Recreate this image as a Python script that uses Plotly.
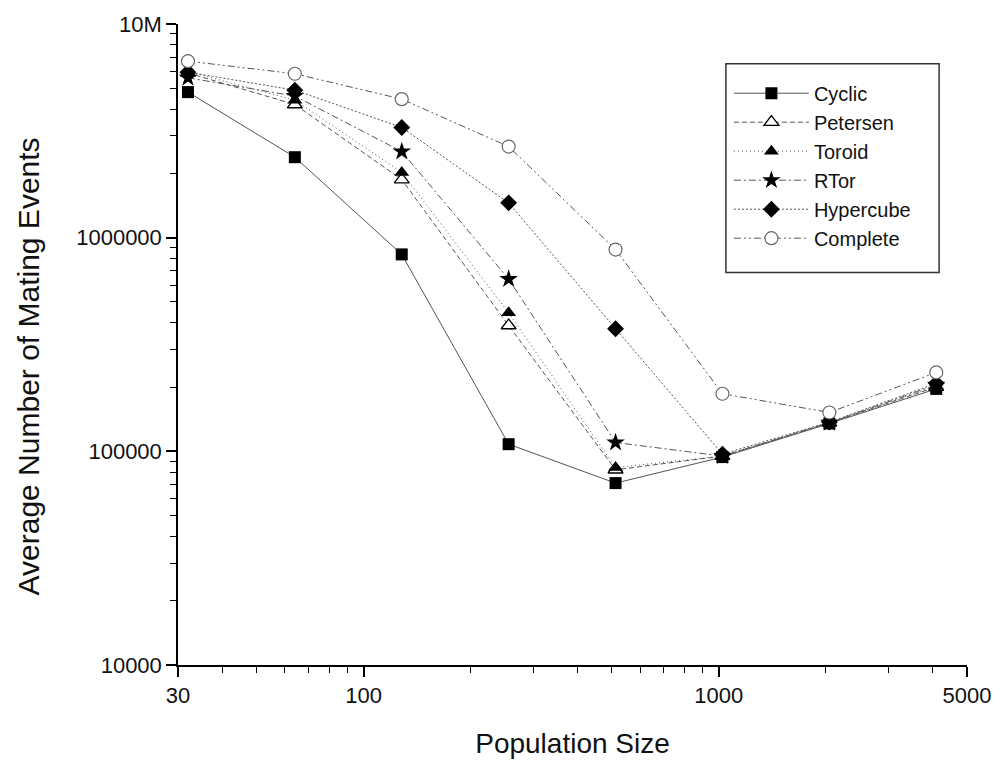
import plotly.graph_objects as go
import math

population = [32, 64, 128, 256, 512, 1024, 2048, 4096]
cyclic = [4.8e6, 2.38e6, 8.35e5, 1.08e5, 7.1e4, 9.4e4, 1.35e5, 1.96e5]
petersen = [5.9e6, 4.2e6, 1.87e6, 3.88e5, 8.2e4, 9.5e4, 1.36e5, 2.0e5]
toroid = [6.0e6, 4.4e6, 2.02e6, 4.45e5, 8.4e4, 9.5e4, 1.36e5, 2.02e5]
rtor = [5.6e6, 4.6e6, 2.53e6, 6.4e5, 1.1e5, 9.5e4, 1.36e5, 2.05e5]
hypercube = [5.95e6, 4.9e6, 3.28e6, 1.455e6, 3.75e5, 9.7e4, 1.37e5, 2.08e5]
complete = [6.7e6, 5.85e6, 4.45e6, 2.67e6, 8.8e5, 1.86e5, 1.52e5, 2.34e5]

x_tickvals = [30, 100, 1000, 5000]
x_ticktext = ["30", "100", "1000", "5000"]
x_minor = [40, 50, 60, 70, 80, 90, 200, 300, 400, 500, 600, 700, 800, 900, 2000, 3000, 4000]
y_tickvals = [1e4, 1e5, 1e6, 1e7]
y_ticktext = ["10000", "100000", "1000000", "10M"]
y_minor = [m * 10 ** e for e in (4, 5, 6) for m in range(2, 10)]

FONT = "Arial"
LINE_C = "#555555"

# plot area in pixels
L, R, T, B = 178, 970, 20, 665
PW, PH = R - L, B - T


def px(xp):
    return (xp - L) / PW


def py(yp):
    return (B - yp) / PH


series = [
    ("Cyclic", cyclic, "solid", dict(symbol="square", size=12, color="black")),
    ("Petersen", petersen, "5px,3px", dict(symbol="triangle-up", size=13, color="white",
                                            line=dict(color="black", width=1.3))),
    ("Toroid", toroid, "1px,3px", dict(symbol="triangle-up", size=13, color="black")),
    ("RTor", rtor, "7px,3px,2px,3px", dict(symbol="star", size=14, color="black")),
    ("Hypercube", hypercube, "2px,2px", dict(symbol="diamond", size=13, color="black")),
    ("Complete", complete, "7px,3px,2px,3px,2px,3px", dict(symbol="circle", size=13, color="white",
                                                           line=dict(color="#666666", width=1.2))),
]

fig = go.Figure()
for name, vals, dash, mk in series:
    fig.add_trace(go.Scatter(
        x=population, y=vals, name=name, mode="lines+markers",
        line=dict(color=LINE_C, width=1, dash=dash),
        marker=mk,
    ))

fig.update_layout(
    width=1003, height=767,
    margin=dict(l=L, r=1003 - R, t=T, b=767 - B),
    paper_bgcolor="white", plot_bgcolor="white",
    font=dict(family=FONT, color="#111111", size=22),
    showlegend=True,
    legend=dict(
        x=px(731), y=py(70), xanchor="left", yanchor="top",
        borderwidth=0, bgcolor="rgba(255,255,255,0)",
        font=dict(family=FONT, size=20, color="#111111"),
        itemwidth=75, tracegroupgap=0,
    ),
    shapes=[dict(type="rect", xref="paper", yref="paper",
                 x0=px(728), x1=px(942), y0=py(270), y1=py(60),
                 line=dict(color="#333333", width=1.5), fillcolor="rgba(0,0,0,0)",
                 layer="above")],
    annotations=[dict(text="Average Number of Mating Events", xref="paper", yref="paper",
                      x=px(28), y=py(365), xanchor="center", yanchor="middle",
                      textangle=-90, showarrow=False,
                      font=dict(size=30, family=FONT, color="#111111"))],
    xaxis=dict(
        type="log", range=[math.log10(30), math.log10(5000)],
        tickmode="array", tickvals=x_tickvals, ticktext=x_ticktext,
        ticks="outside", ticklen=10, tickwidth=1.5, tickcolor="black",
        showline=True, linecolor="black", linewidth=1.5,
        showgrid=False, zeroline=False,
        tickfont=dict(size=22, family=FONT),
        minor=dict(tickmode="array", tickvals=x_minor, ticks="outside", ticklen=6,
                   tickwidth=1.2, tickcolor="black", showgrid=False),
        title=dict(text="Population Size", font=dict(size=28, family=FONT), standoff=26),
    ),
    yaxis=dict(
        type="log", range=[4, 7],
        tickmode="array", tickvals=y_tickvals, ticktext=y_ticktext,
        ticks="outside", ticklen=10, tickwidth=1.5, tickcolor="black",
        showline=True, linecolor="black", linewidth=1.5,
        showgrid=False, zeroline=False,
        tickfont=dict(size=22, family=FONT),
        minor=dict(tickmode="array", tickvals=y_minor, ticks="outside", ticklen=6,
                   tickwidth=1.2, tickcolor="black", showgrid=False),
    ),
)

fig.write_html("out.html")
